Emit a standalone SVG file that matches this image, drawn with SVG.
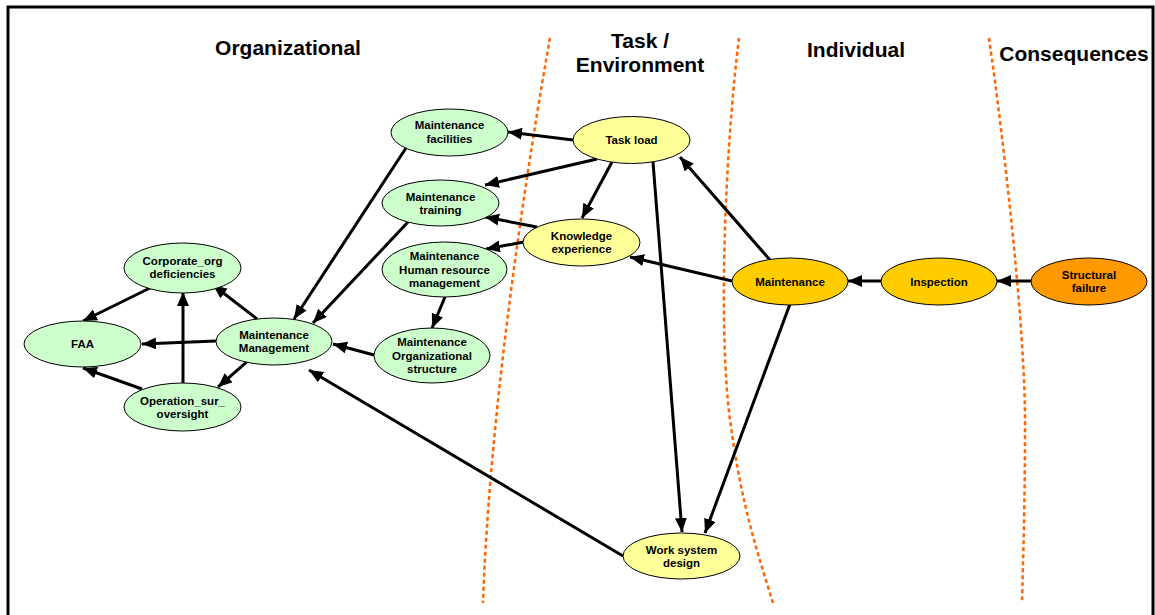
<svg xmlns="http://www.w3.org/2000/svg" width="1155" height="615" viewBox="0 0 1155 615">
<style>
.g{fill:#CCFFCC;stroke:#000;stroke-width:1}
.y{fill:#FFFF99;stroke:#000;stroke-width:1}
.o{fill:#FFCC00;stroke:#000;stroke-width:1}
.r{fill:#FF9900;stroke:#000;stroke-width:1}
.t{font-family:"Liberation Sans",Arial,sans-serif;font-weight:bold;font-size:11.5px;text-anchor:middle;fill:#000}
.h{font-family:"Liberation Sans",Arial,sans-serif;font-weight:bold;font-size:21px;text-anchor:middle;fill:#000}
.d{fill:none;stroke:#FF6600;stroke-width:2.5;stroke-dasharray:4 3}
.c path{fill:none;stroke:#000;stroke-width:3;marker-end:url(#ah)}
</style>
<defs>
<marker id="ah" markerUnits="userSpaceOnUse" markerWidth="15" markerHeight="13" refX="14" refY="6" orient="auto">
<path d="M0,0 L14,6 L0,12 z" fill="#000"/>
</marker>
</defs>
<rect x="0" y="0" width="1155" height="615" fill="#fff"/>
<rect x="8" y="7" width="1145" height="625" fill="none" stroke="#000" stroke-width="3"/>
<g id="lanes">
<path class="d" d="M550,38 C530,150 490,400 483,603"/>
<path class="d" d="M739,38 C725,150 718,330 730,420 S760,560 773,603"/>
<path class="d" d="M989,38 C1005,150 1025,330 1025,420 S1023,560 1022,603"/>
</g>
<g id="headings">
<text class="h" x="288" y="55">Organizational</text>
<text class="h" x="640" y="48">Task /</text>
<text class="h" x="640" y="72">Environment</text>
<text class="h" x="856" y="57">Individual</text>
<text class="h" x="1074" y="61">Consequences</text>
</g>
<g id="connectors" class="c">
<path d="M573,140 L508,132"/>
<path d="M597,159 L485,185"/>
<path d="M612,162 L582,218"/>
<path d="M653,162 L682,532"/>
<path d="M770,260 L680,157"/>
<path d="M732,281 L630,257"/>
<path d="M790,304 L705,533"/>
<path d="M881,281 L848,281"/>
<path d="M1031,281 L997,281"/>
<path d="M537,227 L485,217"/>
<path d="M524,242 L486,249"/>
<path d="M445,297 L432,328"/>
<path d="M374,355 L333,344"/>
<path d="M623,556 L309,370"/>
<path d="M406,148 L294,319"/>
<path d="M408,222 L313,323"/>
<path d="M257,319 L213,285"/>
<path d="M216,341 L142,344"/>
<path d="M257,353 L218,387"/>
<path d="M154,286 L83,321"/>
<path d="M183,384 L183,292"/>
<path d="M142,389 L83,368"/>
</g>
<g id="maint_facilities"><ellipse class="g" cx="449.5" cy="132.5" rx="58.5" ry="23.5"/><text class="t" x="449.5" y="129.4">Maintenance</text><text class="t" x="449.5" y="142.7">facilities</text></g>
<g id="task_load"><ellipse class="y" cx="631.5" cy="140" rx="58.5" ry="23.5"/><text class="t" x="631.5" y="144.2">Task load</text></g>
<g id="maint_training"><ellipse class="g" cx="440.5" cy="203" rx="58.5" ry="23"/><text class="t" x="440.5" y="200.5">Maintenance</text><text class="t" x="440.5" y="213.8">training</text></g>
<g id="knowledge"><ellipse class="y" cx="581.5" cy="242.5" rx="58.5" ry="23.5"/><text class="t" x="581.5" y="240">Knowledge</text><text class="t" x="581.5" y="253.3">experience</text></g>
<g id="maint_hr"><ellipse class="g" cx="444.5" cy="269.5" rx="62.5" ry="27.5"/><text class="t" x="444.5" y="260.4">Maintenance</text><text class="t" x="444.5" y="273.7">Human resource</text><text class="t" x="444.5" y="287">management</text></g>
<g id="maint_org"><ellipse class="g" cx="432" cy="355.5" rx="58" ry="27.5"/><text class="t" x="432" y="346.4">Maintenance</text><text class="t" x="432" y="359.7">Organizational</text><text class="t" x="432" y="373">structure</text></g>
<g id="maintenance"><ellipse class="o" cx="790" cy="281.5" rx="58" ry="23.5"/><text class="t" x="790" y="285.7">Maintenance</text></g>
<g id="inspection"><ellipse class="o" cx="939" cy="281.5" rx="58" ry="23.5"/><text class="t" x="939" y="285.7">Inspection</text></g>
<g id="structural_failure"><ellipse class="r" cx="1089" cy="281.5" rx="58" ry="23.5"/><text class="t" x="1089" y="279">Structural</text><text class="t" x="1089" y="292.3">failure</text></g>
<g id="work_system"><ellipse class="y" cx="681.5" cy="556" rx="58.5" ry="23"/><text class="t" x="681.5" y="553.5">Work system</text><text class="t" x="681.5" y="566.8">design</text></g>
<g id="corporate"><ellipse class="g" cx="182.5" cy="268" rx="58.5" ry="25"/><text class="t" x="182.5" y="265">Corporate_org</text><text class="t" x="182.5" y="278.3">deficiencies</text></g>
<g id="faa"><ellipse class="g" cx="82.5" cy="344" rx="58.5" ry="23"/><text class="t" x="82.5" y="348.2">FAA</text></g>
<g id="maint_mgmt"><ellipse class="g" cx="274" cy="341.5" rx="58" ry="23.5"/><text class="t" x="274" y="339">Maintenance</text><text class="t" x="274" y="352.3">Management</text></g>
<g id="operation"><ellipse class="g" cx="182.5" cy="407" rx="58.5" ry="24"/><text class="t" x="182.5" y="404.5">Operation_sur_</text><text class="t" x="182.5" y="417.8">oversight</text></g>
</svg>
